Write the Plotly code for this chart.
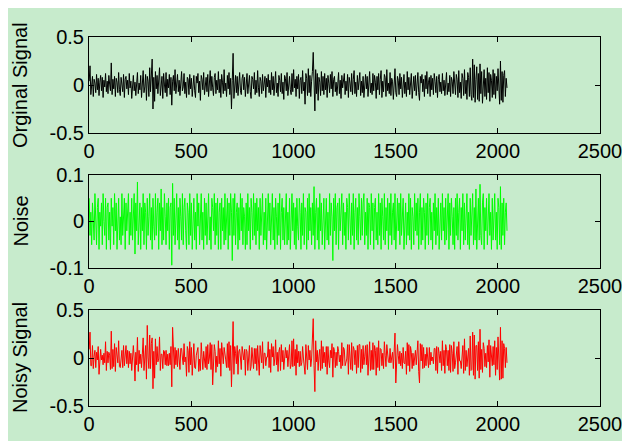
import plotly.graph_objects as go
from plotly.subplots import make_subplots

# sample index (every 4th sample of 2048)
samples = list(range(1, 2049, 4))

original = [
    0.04, 0.20, -0.10, -0.03, 0.09, -0.12, 0.06, 0.02, -0.08, 0.11, -0.05, 0.07, -0.11, 0.03, 0.10, -0.06,
    0.08, -0.13, 0.05, -0.02, 0.12, -0.07, 0.04, -0.09, 0.10, 0.01, -0.06, 0.23, -0.10, 0.06, -0.04, 0.09,
    -0.12, 0.07, 0.03, -0.08, 0.13, -0.05, -0.11, 0.08, 0.02, -0.07, 0.11, -0.13, 0.06, 0.09, -0.04, 0.05,
    -0.10, 0.12, -0.03, 0.04, -0.14, 0.08, 0.10, -0.06, 0.03, -0.11, 0.07, 0.13, -0.09, 0.02, -0.05, 0.10,
    -0.13, 0.06, 0.15, -0.08, -0.02, 0.11, -0.16, 0.09, 0.04, -0.12, 0.18, -0.07, 0.12, 0.27, -0.25, 0.08,
    -0.17, 0.14, -0.04, 0.10, -0.09, 0.05, 0.18, -0.11, -0.03, 0.09, -0.14, 0.12, 0.01, -0.08, 0.13, -0.12,
    0.06, -0.03, 0.11, -0.10, 0.08, -0.21, 0.04, 0.10, -0.06, 0.16, -0.09, 0.02, 0.11, -0.07, 0.05, -0.11,
    0.09, 0.14, -0.06, -0.02, 0.12, -0.09, 0.03, -0.13, 0.08, 0.06, -0.10, 0.11, -0.04, 0.07, -0.12, 0.05,
    0.10, -0.06, -0.13, 0.09, 0.02, 0.12, -0.08, 0.04, -0.16, 0.10, 0.06, -0.05, 0.13, -0.10, 0.03, 0.08,
    -0.07, 0.11, -0.12, 0.04, 0.15, -0.06, 0.09, -0.03, -0.11, 0.08, 0.12, -0.09, 0.05, -0.05, 0.14, -0.08,
    0.06, -0.13, 0.11, 0.03, -0.09, 0.16, -0.06, 0.02, -0.12, 0.10, -0.04, 0.13, -0.10, 0.07, -0.25, 0.05,
    0.33, -0.14, 0.06, 0.10, -0.08, 0.09, -0.11, 0.04, 0.13, -0.06, -0.10, 0.07, 0.11, -0.05, 0.08, -0.12,
    0.05, 0.12, -0.09, 0.02, 0.10, -0.07, -0.14, 0.09, 0.06, -0.04, 0.13, -0.10, 0.05, -0.08, 0.15, -0.03,
    -0.12, 0.08, 0.04, -0.09, 0.11, -0.06, 0.03, 0.09, -0.13, 0.07, -0.02, 0.11, -0.08, 0.05, -0.10, 0.13,
    -0.05, 0.09, -0.11, 0.06, 0.14, -0.08, 0.02, -0.12, 0.10, 0.05, -0.07, 0.12, -0.09, 0.03, -0.15, 0.10,
    0.07, -0.06, 0.13, -0.11, 0.04, 0.09, -0.05, -0.10, 0.12, -0.07, 0.16, -0.03, 0.06, -0.12, 0.09, -0.04,
    0.11, -0.14, 0.05, 0.08, -0.09, 0.15, -0.06, 0.03, -0.20, 0.12, 0.07, -0.11, 0.17, -0.08, 0.10, -0.12,
    0.04, 0.14, 0.34, -0.15, -0.27, 0.16, -0.09, 0.12, -0.16, 0.08, 0.03, -0.11, 0.14, -0.06, 0.09, -0.10,
    0.12, -0.05, 0.07, -0.13, 0.10, 0.02, -0.08, 0.11, -0.04, 0.14, -0.12, 0.06, 0.09, -0.07, 0.03, -0.11,
    0.08, 0.13, -0.09, 0.05, -0.14, 0.10, -0.03, 0.07, 0.12, -0.10, 0.04, -0.06, 0.11, -0.13, 0.08, 0.02,
    -0.07, 0.12, -0.10, 0.06, 0.15, -0.09, 0.03, -0.12, 0.10, -0.05, 0.08, 0.13, -0.11, 0.04, -0.08, 0.09,
    -0.13, 0.07, 0.11, -0.04, 0.09, -0.12, 0.05, 0.14, -0.08, 0.02, -0.10, 0.12, -0.06, 0.10, 0.03, -0.14,
    0.09, -0.05, 0.12, -0.10, 0.06, 0.15, -0.13, 0.04, -0.07, 0.11, 0.08, -0.12, 0.16, -0.06, 0.02, -0.09,
    0.13, -0.11, 0.07, 0.04, -0.15, 0.10, 0.17, -0.08, -0.12, 0.09, 0.05, -0.10, 0.12, -0.04, 0.08, -0.13,
    0.06, 0.11, -0.09, 0.03, -0.12, 0.14, -0.05, 0.08, -0.10, 0.07, 0.12, -0.14, 0.04, 0.09, -0.06, 0.10,
    -0.11, 0.05, 0.13, -0.08, -0.16, 0.09, 0.02, 0.11, -0.07, 0.06, -0.12, 0.10, -0.04, 0.14, -0.09, 0.03,
    0.08, -0.12, 0.10, -0.05, 0.07, -0.10, 0.12, 0.04, -0.08, 0.09, -0.13, 0.06, 0.11, -0.07, 0.03, -0.09,
    0.12, -0.06, 0.05, -0.11, 0.09, 0.13, -0.10, 0.02, -0.07, 0.10, -0.12, 0.08, 0.04, -0.09, 0.14, -0.05,
    -0.10, 0.11, 0.06, -0.13, 0.15, -0.08, 0.03, -0.14, 0.12, 0.07, -0.11, 0.16, -0.09, 0.05, -0.15, 0.13,
    0.08, -0.12, 0.18, -0.10, -0.16, 0.27, -0.13, 0.21, -0.18, 0.06, 0.19, -0.15, 0.12, -0.17, 0.22, -0.09,
    0.14, -0.19, 0.10, 0.16, -0.12, 0.07, -0.15, 0.18, -0.08, 0.13, -0.17, 0.11, 0.05, -0.13, 0.16, -0.10,
    0.12, -0.14, 0.09, -0.06, 0.17, -0.11, -0.20, 0.25, -0.16, 0.14, -0.18, 0.10, 0.15, -0.12, 0.07, -0.03,
]

noise = [
    0.05, -0.03, 0.02, -0.05, 0.04, 0.01, -0.04, 0.06, -0.02, -0.05, 0.03, 0.05, -0.06, 0.02, -0.01, 0.04,
    -0.05, 0.06, 0.00, -0.03, 0.05, -0.06, 0.03, 0.04, -0.04, 0.02, -0.06, 0.05, -0.01, 0.03, -0.05, 0.06,
    -0.02, 0.04, -0.06, 0.03, 0.05, -0.04, 0.01, -0.05, 0.06, -0.03, 0.02, 0.05, -0.06, 0.04, -0.02, 0.03,
    0.06, -0.05, 0.02, -0.03, 0.05, -0.04, 0.03, 0.06, -0.07, 0.04, -0.02, 0.085, -0.05, 0.01, 0.04, -0.06,
    0.03, -0.02, 0.06, -0.05, 0.04, 0.02, -0.06, 0.05, -0.03, 0.01, 0.06, -0.04, 0.03, -0.06, 0.05, -0.01,
    -0.04, 0.06, -0.03, 0.02, 0.05, -0.06, 0.04, -0.02, 0.07, -0.05, 0.03, -0.04, 0.06, 0.01, -0.05, 0.04,
    -0.02, 0.05, -0.06, 0.03, 0.04, -0.094, 0.082, -0.03, 0.05, -0.05, 0.02, 0.06, -0.04, 0.03, -0.06, 0.05,
    0.01, -0.04, 0.06, -0.05, 0.03, 0.05, -0.02, -0.06, 0.04, 0.02, -0.05, 0.06, -0.03, 0.04, -0.06, 0.03,
    0.05, -0.04, 0.02, -0.06, 0.06, -0.01, 0.04, -0.05, 0.03, 0.06, -0.04, 0.02, -0.06, 0.05, -0.03, 0.04,
    -0.05, 0.03, 0.06, -0.04, 0.01, -0.06, 0.05, 0.03, -0.02, 0.06, -0.05, 0.04, -0.03, 0.05, -0.06, 0.02,
    0.04, -0.06, 0.05, -0.02, 0.03, -0.05, 0.06, -0.04, 0.02, 0.05, -0.06, 0.04, -0.03, 0.06, 0.02, -0.084,
    0.05, -0.03, 0.06, -0.05, 0.02, 0.04, -0.06, 0.03, -0.04, 0.06, -0.02, 0.05, -0.05, 0.03, 0.01, -0.06,
    0.04, -0.05, 0.06, -0.02, 0.03, -0.06, 0.05, 0.02, -0.04, 0.06, -0.03, 0.04, -0.05, 0.05, -0.02, 0.03,
    -0.06, 0.05, -0.03, 0.04, 0.06, -0.05, 0.02, -0.04, 0.05, -0.06, 0.03, 0.06, -0.02, 0.04, -0.05, 0.02,
    0.06, -0.04, 0.03, -0.06, 0.05, 0.01, -0.05, 0.04, -0.03, 0.06, -0.06, 0.02, 0.05, -0.04, 0.03, -0.05,
    0.04, 0.06, -0.05, 0.02, -0.04, 0.05, -0.06, 0.03, 0.06, -0.02, 0.04, -0.05, 0.03, -0.06, 0.05, -0.01,
    -0.04, 0.05, 0.02, -0.06, 0.04, -0.03, 0.06, -0.05, 0.03, 0.02, -0.06, 0.05, -0.04, 0.06, -0.02, 0.03,
    -0.05, 0.04, -0.03, 0.075, -0.06, 0.02, 0.05, -0.04, 0.03, -0.06, 0.06, -0.02, 0.04, -0.05, 0.03, 0.05,
    -0.06, 0.03, 0.05, -0.04, 0.02, -0.05, 0.06, -0.03, 0.04, 0.01, -0.084, 0.05, -0.02, 0.06, -0.05, 0.03,
    0.04, -0.06, 0.05, -0.02, 0.03, 0.06, -0.05, 0.04, -0.03, 0.02, -0.06, 0.05, 0.03, -0.04, 0.06, -0.02,
    -0.05, 0.04, -0.03, 0.06, -0.06, 0.02, 0.05, -0.04, 0.03, -0.05, 0.06, 0.01, -0.04, 0.05, -0.03, 0.04,
    0.06, -0.05, 0.02, -0.03, 0.05, -0.06, 0.04, 0.03, -0.05, 0.06, -0.02, 0.04, -0.06, 0.03, 0.05, -0.04,
    0.02, -0.05, 0.06, -0.03, 0.04, -0.06, 0.05, 0.01, -0.04, 0.06, -0.05, 0.03, -0.02, 0.05, -0.06, 0.04,
    -0.03, 0.06, -0.05, 0.02, 0.04, -0.04, 0.06, -0.06, 0.03, 0.05, -0.02, 0.04, -0.05, 0.06, -0.03, 0.02,
    0.05, -0.06, 0.03, 0.04, -0.05, 0.02, -0.03, 0.06, -0.04, 0.05, -0.06, 0.03, 0.01, -0.05, 0.06, -0.02,
    0.04, -0.03, 0.05, -0.06, 0.02, 0.06, -0.05, 0.03, -0.04, 0.05, 0.02, -0.06, 0.04, -0.03, 0.06, -0.05,
    0.03, 0.05, -0.04, 0.02, -0.06, 0.04, -0.02, 0.06, -0.05, 0.03, -0.03, 0.05, -0.06, 0.02, 0.04, -0.04,
    0.06, -0.02, 0.03, -0.05, 0.05, -0.04, 0.02, 0.06, -0.06, 0.04, -0.03, 0.05, 0.01, -0.05, 0.03, -0.06,
    0.05, -0.03, 0.06, -0.04, 0.02, 0.05, -0.06, 0.03, -0.02, 0.06, -0.05, 0.04, -0.04, 0.03, 0.06, -0.05,
    0.02, -0.06, 0.05, -0.03, 0.04, 0.06, -0.05, 0.03, -0.04, 0.07, -0.06, 0.02, 0.05, -0.04, 0.08, -0.03,
    -0.05, 0.04, 0.06, -0.06, 0.03, -0.02, 0.05, -0.05, 0.04, 0.06, -0.03, 0.02, -0.06, 0.05, -0.04, 0.03,
    0.06, -0.04, 0.02, -0.06, 0.05, 0.03, -0.05, 0.075, -0.06, 0.04, -0.03, 0.05, -0.05, 0.02, 0.04, -0.02,
]

noisy = [
    0.09, 0.27, -0.08, -0.08, 0.13, -0.11, 0.02, 0.08, -0.10, 0.06, -0.02, 0.12, -0.17, 0.05, 0.09, -0.02,
    0.03, -0.07, 0.05, -0.05, 0.17, -0.13, 0.07, -0.05, 0.06, 0.03, -0.12, 0.28, -0.11, 0.09, -0.09, 0.15,
    -0.14, 0.11, -0.03, -0.05, 0.18, -0.09, -0.10, 0.03, 0.08, -0.10, 0.13, -0.08, 0.00, 0.13, -0.06, 0.08,
    -0.10, 0.07, -0.06, 0.05, -0.13, 0.04, 0.13, 0.00, -0.24, 0.06, -0.07, 0.215, -0.14, 0.08, -0.06, 0.04,
    -0.10, 0.04, 0.21, -0.13, 0.02, 0.13, -0.22, 0.34, 0.01, -0.11, 0.24, -0.11, 0.15, 0.21, -0.32, 0.07,
    -0.21, 0.20, -0.07, 0.12, -0.04, -0.01, 0.22, -0.13, 0.04, 0.04, -0.11, 0.08, 0.07, -0.07, 0.08, -0.08,
    0.04, -0.08, 0.05, -0.07, 0.12, -0.30, 0.32, 0.07, -0.11, 0.11, -0.07, 0.08, -0.09, 0.10, -0.01, -0.12,
    0.10, 0.10, 0.00, -0.07, 0.15, -0.04, 0.01, -0.19, 0.12, 0.08, -0.15, 0.17, -0.07, 0.11, -0.18, 0.08,
    0.15, -0.10, -0.11, 0.03, 0.08, 0.11, -0.14, -0.01, -0.13, 0.16, 0.02, -0.12, 0.07, -0.05, -0.10, 0.12,
    -0.12, 0.14, -0.06, 0.00, 0.16, -0.12, 0.14, -0.28, -0.13, 0.14, 0.07, -0.15, 0.02, -0.09, 0.18, -0.06,
    0.10, -0.19, 0.16, 0.01, -0.06, 0.11, 0.00, -0.02, -0.10, 0.15, -0.10, 0.17, -0.13, 0.13, -0.30, -0.03,
    0.38, -0.17, 0.12, 0.05, -0.06, 0.13, -0.17, 0.07, 0.09, 0.00, -0.12, 0.12, 0.06, -0.02, 0.09, -0.18,
    0.09, 0.07, -0.13, 0.00, 0.13, -0.13, -0.09, 0.11, 0.02, -0.11, 0.10, -0.06, 0.10, -0.13, 0.13, 0.00,
    -0.18, 0.13, 0.01, -0.05, 0.17, -0.11, 0.05, 0.05, -0.08, 0.01, 0.01, 0.17, -0.10, 0.09, -0.15, 0.15,
    0.01, 0.12, -0.08, 0.00, 0.19, -0.07, 0.06, -0.14, 0.07, 0.11, -0.13, 0.14, -0.04, 0.08, -0.12, 0.05,
    0.11, 0.00, 0.08, -0.09, 0.00, 0.14, -0.11, -0.07, 0.18, -0.09, 0.20, -0.08, 0.09, -0.18, 0.14, -0.05,
    0.07, -0.09, 0.07, -0.08, -0.05, 0.12, 0.00, -0.12, -0.17, 0.14, 0.01, -0.12, 0.13, -0.02, 0.08, -0.09,
    -0.01, 0.18, 0.41, -0.075, -0.35, 0.18, -0.04, 0.08, -0.13, 0.02, 0.09, -0.13, 0.18, -0.11, 0.12, -0.05,
    0.06, -0.09, 0.12, -0.17, 0.12, -0.03, -0.10, 0.08, 0.00, 0.15, -0.20, 0.11, 0.07, -0.10, 0.06, -0.08,
    0.12, 0.07, -0.04, 0.03, -0.11, 0.16, -0.08, 0.11, 0.09, -0.08, -0.02, -0.01, 0.14, -0.17, 0.14, 0.00,
    -0.12, 0.16, -0.13, 0.12, 0.09, -0.07, 0.08, -0.16, 0.13, -0.10, 0.14, 0.14, -0.15, 0.09, -0.11, 0.13,
    -0.07, 0.02, 0.13, -0.07, 0.14, -0.18, 0.09, 0.17, -0.13, 0.08, -0.12, 0.16, -0.12, 0.13, 0.08, -0.18,
    0.11, -0.10, 0.18, -0.13, 0.10, 0.09, -0.08, 0.05, -0.11, 0.17, 0.03, -0.09, 0.14, -0.01, -0.04, -0.05,
    0.10, -0.05, 0.02, 0.06, -0.11, 0.06, 0.26, -0.26, -0.09, 0.14, 0.03, -0.06, 0.07, -0.08, 0.05, -0.11,
    0.11, -0.05, -0.06, 0.07, -0.17, 0.16, -0.08, 0.14, -0.14, 0.12, 0.06, -0.11, 0.05, -0.08, 0.00, 0.08,
    -0.07, 0.02, 0.18, -0.14, -0.26, 0.15, -0.03, 0.14, -0.11, 0.11, -0.10, 0.04, -0.08, 0.11, -0.03, -0.10,
    0.11, -0.07, 0.06, -0.03, 0.01, -0.06, 0.10, 0.10, -0.13, 0.12, -0.16, 0.11, 0.05, -0.05, 0.07, -0.13,
    0.18, -0.08, 0.08, -0.16, 0.14, 0.09, -0.08, 0.08, -0.13, 0.14, -0.15, 0.13, 0.05, -0.14, 0.17, -0.11,
    -0.05, 0.08, 0.12, -0.17, 0.17, -0.03, -0.03, -0.11, 0.10, 0.13, -0.16, 0.20, -0.13, 0.08, -0.09, 0.08,
    0.10, -0.18, 0.23, -0.13, -0.12, 0.27, -0.18, 0.24, -0.22, 0.13, 0.13, -0.13, 0.17, -0.21, 0.30, -0.12,
    0.09, -0.15, 0.16, 0.10, -0.09, 0.05, -0.10, 0.13, -0.04, 0.19, -0.20, 0.13, -0.01, -0.08, 0.12, -0.07,
    0.18, -0.18, 0.11, -0.12, 0.22, -0.08, -0.23, 0.32, -0.22, 0.18, -0.21, 0.15, 0.10, -0.10, 0.11, -0.05,
]

assert len(original) == len(noise) == len(noisy) == len(samples)

x_ticks = [0, 500, 1000, 1500, 2000, 2500]
panels = [
    ("Orginal Signal", original, "black", [-0.5, 0, 0.5], ["-0.5", "0", "0.5"]),
    ("Noise", noise, "#00ff00", [-0.1, 0, 0.1], ["-0.1", "0", "0.1"]),
    ("Noisy Signal", noisy, "red", [-0.5, 0, 0.5], ["-0.5", "0", "0.5"]),
]

bg = "#c7ebcc"
font = "Liberation Sans, Arial, Helvetica, sans-serif"

fig = make_subplots(rows=3, cols=1)
domains = [[0.7398, 1.0], [0.374, 0.626], [0.0, 0.260]]

for i, (name, ys, color, yt, ytt) in enumerate(panels):
    r = i + 1
    fig.add_trace(go.Scatter(x=samples, y=ys, mode="lines",
                             line=dict(color=color, width=1), showlegend=False),
                  row=r, col=1)
    fig.update_xaxes(range=[0, 2500], tickvals=x_ticks, ticks="inside", ticklen=5,
                     showline=True, linecolor="black", linewidth=1, mirror="ticks",
                     showgrid=False, zeroline=False, tickcolor="black",
                     tickfont=dict(size=20, color="black", family=font),
                     row=r, col=1)
    fig.update_yaxes(range=[yt[0], yt[-1]], tickvals=yt, ticktext=ytt, ticks="inside",
                     ticklen=5, showline=True, linecolor="black", linewidth=1,
                     mirror="ticks", showgrid=False, zeroline=False, tickcolor="black",
                     tickfont=dict(size=20, color="black", family=font),
                     domain=domains[i], row=r, col=1)
    fig.add_annotation(text=name, textangle=-90, xref="paper", yref="paper",
                       x=-0.135, y=sum(domains[i]) / 2, xanchor="center", yanchor="middle",
                       showarrow=False, font=dict(size=20, color="black", family=font))

# page body adds an 8px offset, so margins are shifted to compensate
fig.update_layout(width=630, height=441, paper_bgcolor=bg, plot_bgcolor=bg,
                  margin=dict(l=81, r=38, t=29, b=43))

fig.write_html("out.html")
